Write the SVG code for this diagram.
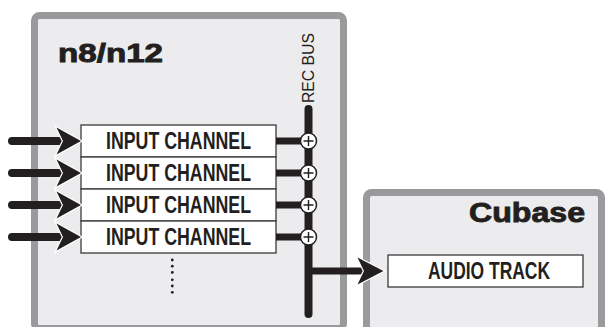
<svg xmlns="http://www.w3.org/2000/svg" width="605" height="327" viewBox="0 0 605 327">
<style>
.frame{fill:#ececee;stroke:#999a9c;stroke-width:7}
.box{fill:#ffffff;stroke:#3a3a3a;stroke-width:1.3}
.lbl{font-family:"Liberation Sans",Arial,sans-serif;font-weight:bold;font-size:24px;fill:#231f20}
.title{font-family:"Liberation Sans",Arial,sans-serif;font-weight:bold;fill:#231f20;stroke:#231f20;stroke-width:0.9}
.wire{stroke:#231f20;stroke-width:8;fill:none;stroke-linecap:round}
.wire2{stroke:#231f20;stroke-width:7;fill:none}
.head{fill:#231f20;stroke:#ffffff;stroke-width:2.5;paint-order:stroke;stroke-linejoin:miter}
.sum{fill:#ffffff;stroke:#231f20;stroke-width:1.5}
.plus{stroke:#231f20;stroke-width:1.4}
.dot{fill:#231f20}
</style>
<g id="n8n12">
<rect class="frame" x="34.5" y="15.5" width="309" height="313" rx="5"/>
<text class="title" x="58" y="62" font-size="26" textLength="105" lengthAdjust="spacingAndGlyphs">n8/n12</text>
</g>
<g id="cubase">
<rect class="frame" x="366.5" y="192.5" width="235" height="200" rx="5"/>
<text class="title" x="469" y="222" font-size="28" textLength="116" lengthAdjust="spacingAndGlyphs">Cubase</text>
</g>
<g id="ch1"><rect class="box" x="81" y="125" width="195" height="32"/><text class="lbl" x="106" y="149" textLength="145" lengthAdjust="spacingAndGlyphs">INPUT CHANNEL</text></g>
<g id="ch2"><rect class="box" x="81" y="157" width="195" height="32"/><text class="lbl" x="106" y="181" textLength="145" lengthAdjust="spacingAndGlyphs">INPUT CHANNEL</text></g>
<g id="ch3"><rect class="box" x="81" y="189" width="195" height="32"/><text class="lbl" x="106" y="213" textLength="145" lengthAdjust="spacingAndGlyphs">INPUT CHANNEL</text></g>
<g id="ch4"><rect class="box" x="81" y="221" width="195" height="32"/><text class="lbl" x="106" y="245" textLength="145" lengthAdjust="spacingAndGlyphs">INPUT CHANNEL</text></g>
<g id="more">
<circle class="dot" cx="172.3" cy="260" r="1.4"/><circle class="dot" cx="172.3" cy="266.2" r="1.4"/><circle class="dot" cx="172.3" cy="272.4" r="1.4"/><circle class="dot" cx="172.3" cy="279.8" r="1.4"/><circle class="dot" cx="172.3" cy="286" r="1.4"/><circle class="dot" cx="172.3" cy="292.3" r="1.4"/>
</g>
<g id="audiotrack"><rect class="box" x="388" y="255" width="195" height="32"/><text class="lbl" x="428" y="279" textLength="122" lengthAdjust="spacingAndGlyphs">AUDIO TRACK</text></g>
<g id="recbus">
<text font-family="'Liberation Sans',Arial,sans-serif" font-size="16" fill="#231f20" transform="translate(314 103) rotate(-90)" textLength="70" lengthAdjust="spacingAndGlyphs">REC BUS</text>
</g>
<g id="connectors">
<line class="wire" x1="308.5" y1="109" x2="308.5" y2="314"/>
<line class="wire" x1="12" y1="141" x2="62" y2="141"/>
<line class="wire" x1="12" y1="173" x2="62" y2="173"/>
<line class="wire" x1="12" y1="205" x2="62" y2="205"/>
<line class="wire" x1="12" y1="237" x2="62" y2="237"/>
<polygon class="head" points="81,141 56.5,127.5 63,141 56.5,154.5"/>
<polygon class="head" points="81,173 56.5,159.5 63,173 56.5,186.5"/>
<polygon class="head" points="81,205 56.5,191.5 63,205 56.5,218.5"/>
<polygon class="head" points="81,237 56.5,223.5 63,237 56.5,250.5"/>
<line class="wire2" x1="276" y1="141" x2="308" y2="141"/>
<line class="wire2" x1="276" y1="173" x2="308" y2="173"/>
<line class="wire2" x1="276" y1="205" x2="308" y2="205"/>
<line class="wire2" x1="276" y1="237" x2="308" y2="237"/>
<line class="wire2" x1="308" y1="271" x2="364" y2="271" stroke-width="8"/>
<polygon class="head" points="383.5,271 357.5,257.5 364,271 357.5,284.5"/>
<g id="sum1"><circle class="sum" cx="308.5" cy="141" r="8"/><path class="plus" d="M303.5 141H313.5M308.5 136V146"/></g>
<g id="sum2"><circle class="sum" cx="308.5" cy="173" r="8"/><path class="plus" d="M303.5 173H313.5M308.5 168V178"/></g>
<g id="sum3"><circle class="sum" cx="308.5" cy="205" r="8"/><path class="plus" d="M303.5 205H313.5M308.5 200V210"/></g>
<g id="sum4"><circle class="sum" cx="308.5" cy="237" r="8"/><path class="plus" d="M303.5 237H313.5M308.5 232V242"/></g>
</g>
</svg>
